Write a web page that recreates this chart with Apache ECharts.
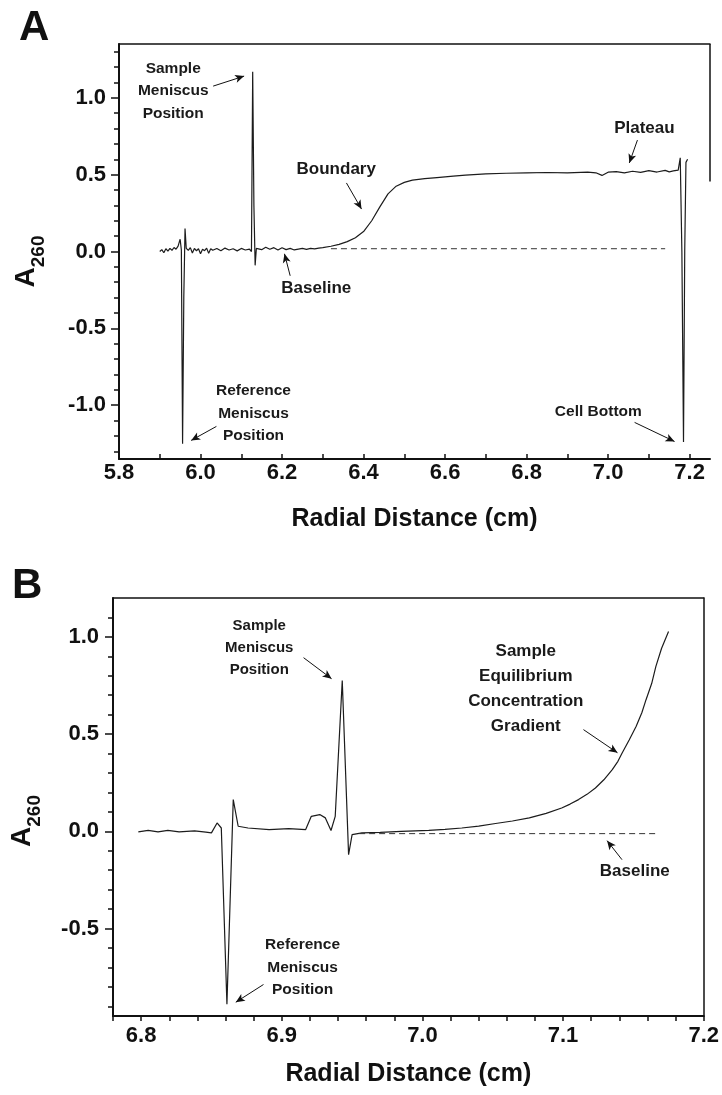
<!DOCTYPE html>
<html>
<head>
<meta charset="utf-8">
<title>Radial scans</title>
<script src="https://cdn.jsdelivr.net/npm/echarts@6/dist/echarts.min.js"></script>
<style>
    html, body { margin: 0; padding: 0; background: #fff; }
    #chart { width: 722px; height: 1095px; }
</style>
</head>
<body>
<div id="chart"></div>
<script>
// panel A - velocity scan
var aRadius = [
    5.900, 5.905, 5.910, 5.915, 5.920, 5.925, 5.930, 5.935, 5.940, 5.945,
    5.950, 5.953, 5.956, 5.959, 5.962, 5.965, 5.970, 5.975, 5.980, 5.985,
    5.990, 5.995, 6.000, 6.005, 6.010, 6.015, 6.020, 6.025, 6.030, 6.040,
    6.050, 6.060, 6.070, 6.080, 6.090, 6.100, 6.110, 6.120, 6.125, 6.128,
    6.131, 6.134, 6.137, 6.140, 6.150, 6.160, 6.170, 6.180, 6.190, 6.200,
    6.210, 6.220, 6.230, 6.240, 6.250, 6.260, 6.270, 6.280, 6.290, 6.300,
    6.320, 6.340, 6.360, 6.380, 6.400, 6.420, 6.440, 6.460, 6.480, 6.500,
    6.520, 6.550, 6.580, 6.620, 6.650, 6.700, 6.750, 6.800, 6.850, 6.900,
    6.950, 6.970, 6.985, 7.000, 7.020, 7.040, 7.060, 7.080, 7.100, 7.120,
    7.140, 7.150, 7.160, 7.172, 7.177, 7.181, 7.185, 7.188, 7.191, 7.195
];
var aAbsorbance = [
    0.000, 0.012, -0.008, 0.018, 0.002, 0.020, 0.008, 0.026, 0.015, 0.035,
    0.080, 0.010, -1.250, -0.300, 0.150, 0.020, 0.008, 0.025, -0.010, 0.020,
    0.005, 0.018, -0.015, 0.015, 0.005, 0.022, -0.012, 0.018, 0.008, 0.020,
    0.005, 0.022, 0.010, 0.018, 0.004, 0.020, 0.010, 0.016, 0.000, 1.170,
    0.300, -0.090, 0.020, 0.030, 0.012, 0.028, 0.015, 0.025, 0.010, 0.024,
    0.012, 0.020, 0.010, 0.015, 0.020, 0.014, 0.020, 0.017, 0.022, 0.025,
    0.034, 0.046, 0.064, 0.090, 0.130, 0.200, 0.290, 0.375, 0.425, 0.450,
    0.464, 0.474, 0.481, 0.490, 0.497, 0.505, 0.509, 0.512, 0.514, 0.512,
    0.517, 0.512, 0.495, 0.516, 0.520, 0.512, 0.522, 0.515, 0.526, 0.517,
    0.528, 0.518, 0.524, 0.530, 0.610, 0.000, -1.240, 0.000, 0.580, 0.600
];
var aBaseRadius = [6.32, 7.14];
var aBaseAbsorbance = [0.018, 0.018];

var aXTicks = [5.8, 5.9, 6.0, 6.1, 6.2, 6.3, 6.4, 6.5, 6.6, 6.7, 6.8, 6.9, 7.0, 7.1, 7.2];
var aXLabels = [5.8, 6.0, 6.2, 6.4, 6.6, 6.8, 7.0, 7.2];
var aYLabels = [-1.0, -0.5, 0.0, 0.5, 1.0];
var aYMinor = [-1.3, -1.2, -1.1, -1.0, -0.9, -0.8, -0.7, -0.6, -0.5, -0.4, -0.3, -0.2, -0.1, 0.0,
    0.1, 0.2, 0.3, 0.4, 0.5, 0.6, 0.7, 0.8, 0.9, 1.0, 1.1, 1.2, 1.3];

// panel B - equilibrium scan
var bRadius = [
    6.798, 6.805, 6.812, 6.819, 6.827, 6.838, 6.846, 6.850, 6.854, 6.857,
    6.861, 6.8655, 6.869, 6.876, 6.891, 6.905, 6.917, 6.921, 6.927, 6.931,
    6.935, 6.938, 6.943, 6.9475, 6.950, 6.957, 6.970, 6.985, 7.0045, 7.016,
    7.028, 7.040, 7.052, 7.064, 7.076, 7.088, 7.099, 7.105, 7.111, 7.117,
    7.123, 7.129, 7.135, 7.139, 7.142, 7.147, 7.152, 7.156, 7.159, 7.163,
    7.166, 7.170, 7.175
];
var bAbsorbance = [
    -0.003, 0.005, -0.003, 0.005, -0.003, 0.002, -0.004, -0.008, 0.043, 0.017,
    -0.890, 0.163, 0.026, 0.017, 0.009, 0.014, 0.009, 0.077, 0.086, 0.069,
    0.004, 0.077, 0.776, -0.120, -0.017, -0.008, -0.006, 0.000, 0.005, 0.010,
    0.017, 0.027, 0.040, 0.053, 0.069, 0.092, 0.120, 0.140, 0.163, 0.190,
    0.223, 0.265, 0.317, 0.360, 0.403, 0.470, 0.540, 0.610, 0.677, 0.760,
    0.848, 0.940, 1.028
];
var bBaseRadius = [6.955, 7.167];
var bBaseAbsorbance = [-0.012, -0.012];

var bXTicks = [6.78, 6.80, 6.82, 6.84, 6.86, 6.88, 6.90, 6.92, 6.94, 6.96, 6.98, 7.00,
    7.02, 7.04, 7.06, 7.08, 7.10, 7.12, 7.14, 7.16, 7.18, 7.20];
var bXLabels = [6.8, 6.9, 7.0, 7.1, 7.2];
var bYLabels = [-0.5, 0.0, 0.5, 1.0];
var bYMinor = [-0.9, -0.8, -0.7, -0.6, -0.5, -0.4, -0.3, -0.2, -0.1, 0.0,
    0.1, 0.2, 0.3, 0.4, 0.5, 0.6, 0.7, 0.8, 0.9, 1.0, 1.1];

// annotations, in data units: text centre and arrow from -> to
var aNotes = [
    { text: 'Sample\nMeniscus\nPosition', at: [5.933, 1.043], size: 15.5, lh: 22.5, from: [6.031, 1.076], to: [6.107, 1.141] },
    { text: 'Boundary', at: [6.333, 0.537], size: 17, lh: 20, from: [6.358, 0.446], to: [6.395, 0.276] },
    { text: 'Baseline', at: [6.284, -0.242], size: 17, lh: 20, from: [6.220, -0.158], to: [6.206, -0.015] },
    { text: 'Plateau', at: [7.089, 0.803], size: 17, lh: 20, from: [7.072, 0.725], to: [7.052, 0.576] },
    { text: 'Reference\nMeniscus\nPosition', at: [6.130, -1.054], size: 15.5, lh: 22.5, from: [6.039, -1.138], to: [5.977, -1.229] },
    { text: 'Cell Bottom', at: [6.976, -1.041], size: 15.5, lh: 20, from: [7.065, -1.112], to: [7.163, -1.236] }
];
var bNotes = [
    { text: 'Sample\nMeniscus\nPosition', at: [6.884, 0.944], size: 15, lh: 22, from: [6.9155, 0.893], to: [6.9354, 0.785] },
    { text: 'Sample\nEquilibrium\nConcentration\nGradient', at: [7.0735, 0.731], size: 17, lh: 25, from: [7.1145, 0.523], to: [7.1387, 0.404] },
    { text: 'Baseline', at: [7.151, -0.207], size: 17, lh: 20, from: [7.1419, -0.146], to: [7.1313, -0.048] },
    { text: 'Reference\nMeniscus\nPosition', at: [6.9148, -0.700], size: 15.5, lh: 22.5, from: [6.887, -0.788], to: [6.8673, -0.879] }
];

var fontFamily = '"Liberation Sans", Arial, Helvetica, sans-serif';
var ink = '#111111';

function pairs(xs, ys) {
    return xs.map(function(x, i) {
        return [x, ys[i]];
    });
}

function fixed1(v) {
    return Number(v).toFixed(1);
}

function notesMarkPoint(notes) {
    return {
        symbol: 'rect',
        symbolSize: 1,
        silent: true,
        itemStyle: { color: 'rgba(0,0,0,0)' },
        data: notes.map(function(n) {
            return {
                coord: n.at,
                label: {
                    show: true,
                    position: 'inside',
                    formatter: n.text,
                    fontFamily: fontFamily,
                    fontWeight: 'bold',
                    fontSize: n.size,
                    lineHeight: n.lh,
                    color: '#1a1a1a',
                    align: 'center'
                }
            };
        })
    };
}

function notesMarkLine(notes) {
    return {
        silent: true,
        symbol: ['none', 'arrow'],
        symbolSize: [6, 9],
        label: { show: false },
        lineStyle: { type: 'solid', color: ink, width: 1 },
        data: notes.map(function(n) {
            return [{ coord: n.from }, { coord: n.to }];
        })
    };
}

function yName() {
    return {
        name: '{a|A}{s|260}',
        nameLocation: 'middle',
        nameRotate: 90,
        nameTextStyle: {
            color: ink,
            fontFamily: fontFamily,
            fontWeight: 'bold',
            rich: {
                a: { fontSize: 28, fontWeight: 'bold', fontFamily: fontFamily, color: ink, lineHeight: 28, verticalAlign: 'top' },
                s: { fontSize: 19, fontWeight: 'bold', fontFamily: fontFamily, color: ink, verticalAlign: 'bottom', padding: [17, 0, 0, 0] }
            }
        }
    };
}

var labelStyle = {
    fontFamily: fontFamily,
    fontWeight: 'bold',
    fontSize: 22,
    color: ink
};

var xNameStyle = {
    fontFamily: fontFamily,
    fontWeight: 'bold',
    fontSize: 25,
    color: ink
};

var chart = echarts.init(document.getElementById('chart'), null, { renderer: 'canvas' });

var yA = yName();
yA.nameGap = 71;
yA.nameTextStyle.padding = [0, 20, 0, 0];
var yB = yName();
yB.nameGap = 69;
yB.nameTextStyle.padding = [0, 28, 0, 0];

var option = {
    animation: false,
    backgroundColor: '#ffffff',
    title: [
        { text: 'A', left: 19, top: 7, padding: 0, textStyle: { fontSize: 42, fontWeight: 'bold', fontFamily: fontFamily, color: ink } },
        { text: 'B', left: 12, top: 565, padding: 0, textStyle: { fontSize: 42, fontWeight: 'bold', fontFamily: fontFamily, color: ink } }
    ],
    grid: [
        { left: 119, top: 44, width: 591, height: 415 },
        { left: 113, top: 598, width: 591, height: 418 }
    ],
    xAxis: [
        {
            gridIndex: 0, type: 'value', min: 5.8, max: 7.25,
            axisLine: { onZero: false, lineStyle: { color: ink, width: 2 } },
            axisTick: { customValues: aXTicks, inside: true, length: 5, lineStyle: { color: ink, width: 1.5 } },
            axisLabel: Object.assign({ customValues: aXLabels, formatter: fixed1, margin: 3 }, labelStyle),
            splitLine: { show: false },
            name: 'Radial Distance (cm)', nameLocation: 'middle', nameGap: 48, nameTextStyle: xNameStyle
        },
        {
            gridIndex: 0, type: 'value', min: 5.8, max: 7.25, position: 'top',
            axisLine: { onZero: false, lineStyle: { color: ink, width: 1.5 } },
            axisTick: { show: false }, axisLabel: { show: false }, splitLine: { show: false }
        },
        {
            gridIndex: 1, type: 'value', min: 6.78, max: 7.2,
            axisLine: { onZero: false, lineStyle: { color: ink, width: 2 } },
            axisTick: { customValues: bXTicks, length: 5, lineStyle: { color: ink, width: 1.5 } },
            axisLabel: Object.assign({ customValues: bXLabels, formatter: fixed1, margin: 9 }, labelStyle),
            splitLine: { show: false },
            name: 'Radial Distance (cm)', nameLocation: 'middle', nameGap: 46, nameTextStyle: xNameStyle
        },
        {
            gridIndex: 1, type: 'value', min: 6.78, max: 7.2, position: 'top',
            axisLine: { onZero: false, lineStyle: { color: ink, width: 1.5 } },
            axisTick: { show: false }, axisLabel: { show: false }, splitLine: { show: false }
        }
    ],
    yAxis: [
        Object.assign({
            gridIndex: 0, type: 'value', min: -1.35, max: 1.35, position: 'left',
            axisLine: { show: true, onZero: false, lineStyle: { color: ink, width: 2 } },
            axisTick: { customValues: aYLabels, length: 8, lineStyle: { color: ink, width: 1.5 } },
            axisLabel: Object.assign({ customValues: aYLabels, formatter: fixed1, margin: 13 }, labelStyle),
            splitLine: { show: false }
        }, yA),
        {
            gridIndex: 0, type: 'value', min: -1.35, max: 1.35, position: 'left',
            axisLine: { show: false, onZero: false },
            axisTick: { customValues: aYMinor, length: 5, lineStyle: { color: ink, width: 1.5 } },
            axisLabel: { show: false }, splitLine: { show: false }
        },
        Object.assign({
            gridIndex: 1, type: 'value', min: -0.95, max: 1.2, position: 'left',
            axisLine: { show: true, onZero: false, lineStyle: { color: ink, width: 2 } },
            axisTick: { customValues: bYLabels, length: 8, lineStyle: { color: ink, width: 1.5 } },
            axisLabel: Object.assign({ customValues: bYLabels, formatter: fixed1, margin: 14 }, labelStyle),
            splitLine: { show: false }
        }, yB),
        {
            gridIndex: 1, type: 'value', min: -0.95, max: 1.2, position: 'left',
            axisLine: { show: false, onZero: false },
            axisTick: { customValues: bYMinor, length: 5, lineStyle: { color: ink, width: 1.5 } },
            axisLabel: { show: false }, splitLine: { show: false }
        },
        {
            gridIndex: 1, type: 'value', min: -0.95, max: 1.2, position: 'right',
            axisLine: { show: true, onZero: false, lineStyle: { color: ink, width: 1.5 } },
            axisTick: { show: false }, axisLabel: { show: false }, splitLine: { show: false }
        }
    ],
    series: [
        {
            type: 'line', xAxisIndex: 0, yAxisIndex: 0,
            data: pairs(aRadius, aAbsorbance),
            showSymbol: false, silent: true,
            lineStyle: { color: '#1c1c1c', width: 1.2 },
            markPoint: notesMarkPoint(aNotes),
            markLine: notesMarkLine(aNotes)
        },
        {
            type: 'line', xAxisIndex: 0, yAxisIndex: 0,
            data: pairs(aBaseRadius, aBaseAbsorbance),
            showSymbol: false, silent: true,
            lineStyle: { color: '#333333', width: 1, type: [6, 4] }
        },
        {
            type: 'line', xAxisIndex: 2, yAxisIndex: 2,
            data: pairs(bRadius, bAbsorbance),
            showSymbol: false, silent: true,
            lineStyle: { color: '#1c1c1c', width: 1.2 },
            markPoint: notesMarkPoint(bNotes),
            markLine: notesMarkLine(bNotes)
        },
        {
            type: 'line', xAxisIndex: 2, yAxisIndex: 2,
            data: pairs(bBaseRadius, bBaseAbsorbance),
            showSymbol: false, silent: true,
            lineStyle: { color: '#333333', width: 1, type: [6, 4] }
        }
    ]
};

chart.setOption(option);

// right frame edge of panel A only runs down to about 0.45
var edgeTop = chart.convertToPixel({ xAxisIndex: 0, yAxisIndex: 0 }, [7.25, 1.35]);
var edgeEnd = chart.convertToPixel({ xAxisIndex: 0, yAxisIndex: 0 }, [7.25, 0.455]);
chart.setOption({
    graphic: [{
        type: 'line',
        shape: { x1: edgeTop[0], y1: edgeTop[1], x2: edgeEnd[0], y2: edgeEnd[1] },
        style: { stroke: ink, lineWidth: 1.5 }
    }]
});
</script>
</body>
</html>
